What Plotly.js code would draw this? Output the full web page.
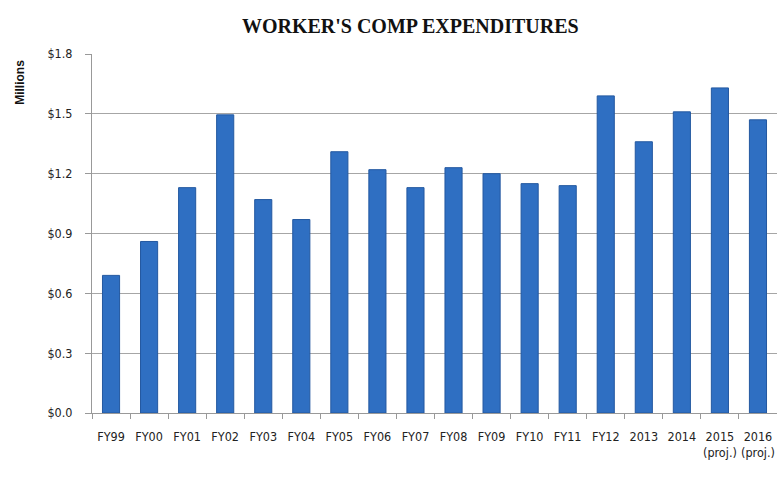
<!DOCTYPE html>
<html>
<head>
<meta charset="utf-8">
<script src="https://cdn.plot.ly/plotly-3.0.1.min.js"></script>
<style>html,body{margin:0;padding:0;background:#fff;}#chart{width:777px;height:479px;}</style>
</head>
<body>
<div id="chart"></div>
<script>
const categories = ["FY99","FY00","FY01","FY02","FY03","FY04","FY05","FY06","FY07","FY08","FY09","FY10","FY11","FY12","2013","2014","2015","2016"];
const tickLabels = ["FY99","FY00","FY01","FY02","FY03","FY04","FY05","FY06","FY07","FY08","FY09","FY10","FY11","FY12","2013","2014","2015<br>(proj.)","2016<br>(proj.)"];
const expenditures = [0.69,0.86,1.13,1.495,1.07,0.97,1.31,1.22,1.13,1.23,1.20,1.15,1.14,1.59,1.36,1.51,1.63,1.47];

const trace = {
  type: 'bar',
  x: categories,
  y: expenditures,
  marker: {color: '#2f6fc2', line: {color: '#2358a0', width: 1}},
  hoverinfo: 'x+y'
};

const tickFont = {family: 'DejaVu Sans Condensed, Liberation Sans Narrow, Arial Narrow, sans-serif', size: 12.5, color: '#222'};

const layout = {
  width: 777, height: 479,
  margin: {l: 92, r: 0, t: 54, b: 66},
  paper_bgcolor: '#fff', plot_bgcolor: '#fff',
  bargap: 0.55,
  showlegend: false,
  title: {
    text: "WORKER'S COMP EXPENDITURES",
    font: {family: 'Liberation Serif, serif', size: 20, color: '#111', weight: 'bold'},
    x: 0.528, xanchor: 'center', y: 0.946, yanchor: 'middle', yref: 'container'
  },
  xaxis: {
    type: 'category',
    range: [-0.5, 17.5],
    tickmode: 'array', tickvals: categories, ticktext: tickLabels,
    tickson: 'boundaries', ticks: 'outside', ticklen: 5, tickcolor: '#999',
    showline: true, linecolor: '#999', linewidth: 1,
    showgrid: false,
    tickangle: 0,
    ticklabelstandoff: 12,
    tickfont: tickFont
  },
  yaxis: {
    range: [0, 1.8], dtick: 0.3, tick0: 0,
    tickprefix: '$', tickformat: '.1f',
    ticks: 'outside', ticklen: 6, tickcolor: '#999',
    showline: true, linecolor: '#999', linewidth: 1,
    showgrid: true, gridcolor: '#a6a6a6', gridwidth: 1,
    zeroline: false,
    ticklabelstandoff: 10,
    tickfont: tickFont
  },
  annotations: [{
    text: '<b>Millions</b>', textangle: -90,
    xref: 'paper', yref: 'paper', x: -0.105, y: 0.92,
    xanchor: 'center', yanchor: 'middle', showarrow: false,
    font: {family: 'Liberation Sans, Arial, sans-serif', size: 12, color: '#111'}
  }]
};

Plotly.newPlot('chart', [trace], layout, {displayModeBar: false, responsive: false});
</script>
</body>
</html>
